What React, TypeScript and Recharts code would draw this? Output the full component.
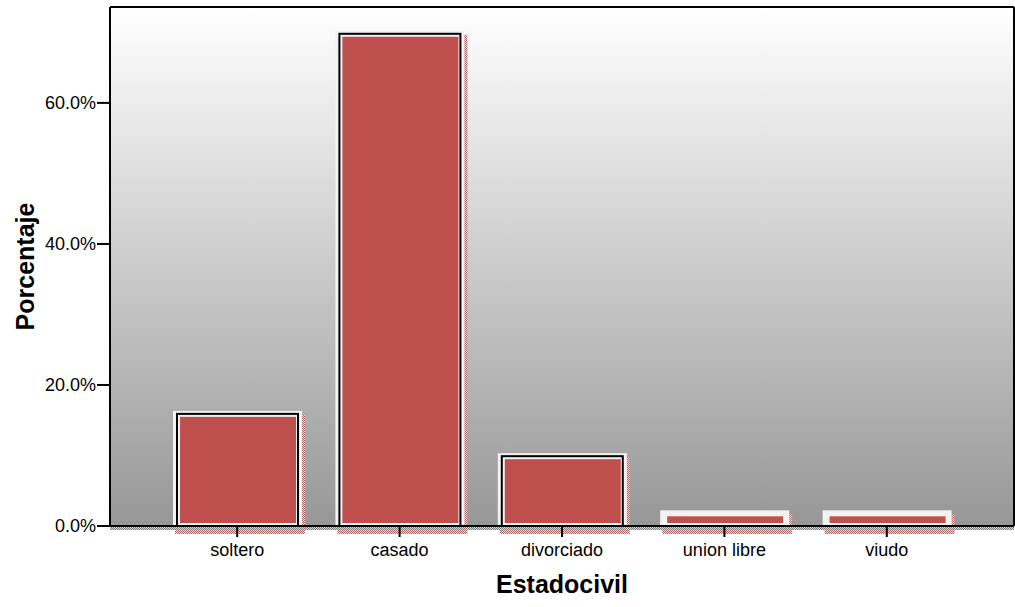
import { Bar, BarChart, CartesianGrid, ReferenceLine, XAxis, YAxis } from 'recharts'

const categories = ['soltero', 'casado', 'divorciado', 'union libre', 'viudo']
const percentages = [15.9, 69.8, 9.9, 1.8, 1.8]
const yTicks = [0, 20, 40, 60]

const data = categories.map((name, i) => ({ name, value: percentages[i] }))

const FONT = '"Liberation Sans", Arial, sans-serif'

function formatPercent(value: number): string {
  return `${value.toFixed(1)}%`
}

// SPSS-style bar: white frame, black outline, red fill, dotted drop shadow
function FramedBar(props: any) {
  const { x, y, width, height } = props
  const bottom = y + height
  return (
    <g>
      <rect x={x - 2} y={y + 1} width={width + 9} height={height + 7} fill="url(#shadowPat)" />
      <rect x={x - 4} y={y - 3} width={width + 8} height={height + 7} fill="#f2f2f2" />
      {height > 20 ? <rect x={x} y={y} width={width} height={height} fill="none" stroke="#000" strokeWidth={2} /> : null}
      <rect x={x + 3} y={y + 3} width={width - 5} height={Math.max(bottom - 3 - (y + 3), 0)} fill="#C0504D" />
    </g>
  )
}

function BaseLine(props: any) {
  const { x1, x2, y1 } = props
  return (
    <g>
      <rect x={x1} y={y1 + 1} width={x2 - x1} height={3} fill="url(#axisPat)" />
      <line x1={x1} x2={x2} y1={y1} y2={y1} stroke="#000" strokeWidth={2} />
    </g>
  )
}

export default function App() {
  return (
    <div style={{ position: 'absolute', left: 0, top: 0, background: '#fff' }}>
      <BarChart width={1015} height={607} data={data} margin={{ top: 6, right: 0, left: 0, bottom: 0 }}>
        <defs>
          <linearGradient id="bgGrad" x1="0" y1="0" x2="0" y2="1">
            <stop offset="0%" stopColor="#ffffff" />
            <stop offset="100%" stopColor="#979797" />
          </linearGradient>
          <pattern id="shadowPat" width="2" height="2" patternUnits="userSpaceOnUse">
            <rect width="2" height="2" fill="#e6d6d6" />
            <rect width="1" height="1" fill="#b06a6a" />
            <rect x="1" y="1" width="1" height="1" fill="#b06a6a" />
          </pattern>
          <pattern id="axisPat" width="2" height="2" patternUnits="userSpaceOnUse">
            <rect width="2" height="2" fill="#d8d8d8" />
            <rect width="1" height="1" fill="#7a7a7a" />
            <rect x="1" y="1" width="1" height="1" fill="#7a7a7a" />
          </pattern>
        </defs>
        <CartesianGrid horizontal={false} vertical={false} fill="url(#bgGrad)" stroke="none" />
        <XAxis
          dataKey="name"
          interval={0}
          padding={{ left: 46, right: 46 }}
          height={81}
          axisLine={{ stroke: '#000', strokeWidth: 2 }}
          tickLine={{ stroke: '#000', strokeWidth: 2 }}
          tickSize={11}
          tickMargin={6}
          tick={{ fill: '#000', fontSize: 18, fontFamily: FONT }}
          label={{ value: 'Estadocivil', position: 'insideBottom', offset: 14, fill: '#000', fontSize: 25, fontWeight: 700, fontFamily: FONT }}
        />
        <XAxis xAxisId="top" dataKey="name" orientation="top" height={1} tick={false} tickLine={false} axisLine={{ stroke: '#000', strokeWidth: 2 }} />
        <YAxis
          width={110}
          domain={[0, 73.6]}
          ticks={yTicks}
          tickFormatter={formatPercent}
          axisLine={{ stroke: '#000', strokeWidth: 2 }}
          tickLine={{ stroke: '#000', strokeWidth: 2 }}
          tickSize={13}
          tickMargin={1}
          tick={{ fill: '#000', fontSize: 18, fontFamily: FONT }}
          label={{
            content: (p: any) => {
              const vb = p.viewBox
              const cy = vb.y + vb.height / 2
              return (
                <text x={25} y={cy} transform={`rotate(-90, 25, ${cy})`} textAnchor="middle" dominantBaseline="central" fill="#000" fontSize={25} fontWeight={700} fontFamily={FONT}>
                  Porcentaje
                </text>
              )
            },
          }}
        />
        <YAxis yAxisId="right" orientation="right" width={1} domain={[0, 73.6]} tick={false} tickLine={false} axisLine={{ stroke: '#000', strokeWidth: 2 }} />
        <ReferenceLine y={0} shape={BaseLine} />
        <Bar dataKey="value" barSize={121} shape={FramedBar} isAnimationActive={false} />
      </BarChart>
    </div>
  )
}
